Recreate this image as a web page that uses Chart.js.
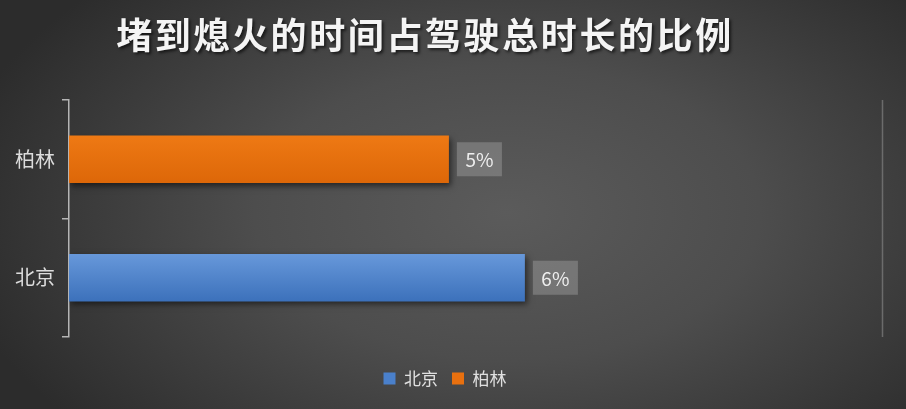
<!DOCTYPE html>
<html>
<head>
<meta charset="utf-8">
<script src="https://cdn.jsdelivr.net/npm/chart.js@4"></script>
<style>
  html, body { margin: 0; padding: 0; }
  body {
    width: 906px; height: 409px; overflow: hidden;
    background: radial-gradient(ellipse 62% 80% at 56% 52%, #5b5b5b 0%, #4d4d4d 45%, #2c2c2c 100%);
  }
  #wrap { position: relative; width: 906px; height: 409px; }
</style>
</head>
<body>
<div id="wrap"><canvas id="myChart"></canvas></div>
<script>
const title = "堵到熄火的时间占驾驶总时长的比例";
const cities = ["柏林", "北京"];
const beijing = [null, 6];
const berlin = [5, null];
const xMax = 10.7;
const barPct = 0.4;

const ctx = document.getElementById("myChart");

// vertical gradient on each bar, worked out from the category scale
function barFill(top, bottom) {
  return (c) => {
    const y = c.chart.scales && c.chart.scales.y;
    if (!y || !c.chart.chartArea || c.dataIndex === undefined) return bottom;
    const mid = y.getPixelForValue(c.dataIndex);
    const half = (y.height / cities.length) * barPct / 2;
    const g = c.chart.ctx.createLinearGradient(0, mid - half, 0, mid + half);
    g.addColorStop(0, top);
    g.addColorStop(1, bottom);
    return g;
  };
}

const extras = {
  id: "extras",
  beforeDatasetsDraw(chart) {
    const c = chart.ctx;
    c.save();
    c.shadowColor = "rgba(0,0,0,0.55)";
    c.shadowBlur = 6;
    c.shadowOffsetX = 2;
    c.shadowOffsetY = 3;
  },
  afterDatasetsDraw(chart) {
    const c = chart.ctx;
    c.restore();
    // value boxes
    c.save();
    c.font = '19px "Noto Sans CJK SC", "Noto Sans", sans-serif';
    c.textAlign = "center";
    c.textBaseline = "middle";
    chart.data.datasets.forEach((ds, i) => {
      chart.getDatasetMeta(i).data.forEach((bar, j) => {
        const v = ds.data[j];
        if (v == null) return;
        const x = bar.x + 8, w = 45, h = 34;
        c.fillStyle = "rgba(160,160,160,0.45)";
        c.fillRect(x, bar.y - h / 2, w, h);
        c.fillStyle = "#eeeeee";
        c.fillText(v + "%", x + w / 2, bar.y + 1);
      });
    });
    c.restore();
  },
  afterDraw(chart) {
    const c = chart.ctx;
    const a = chart.chartArea;
    c.save();
    // faint right edge line
    c.strokeStyle = "rgba(120,120,120,0.8)";
    c.lineWidth = 1.5;
    c.beginPath();
    c.moveTo(a.right + 0.5, a.top);
    c.lineTo(a.right + 0.5, a.bottom);
    c.stroke();
    // title
    c.font = 'bold 36px "Noto Sans CJK SC", sans-serif';
    c.letterSpacing = "2.6px";
    c.textAlign = "center";
    c.textBaseline = "middle";
    c.shadowColor = "rgba(0,0,0,0.6)";
    c.shadowBlur = 3;
    c.shadowOffsetX = 2;
    c.shadowOffsetY = 2;
    c.fillStyle = "#f4f4f4";
    c.fillText(title, 425, 35);
    c.restore();
  }
};

new Chart(ctx, {
  type: "bar",
  data: {
    labels: cities,
    datasets: [
      {
        label: "北京",
        data: beijing,
        backgroundColor: barFill("#6798da", "#3c71bb"),
        legendColor: "#4a80cb",
      },
      {
        label: "柏林",
        data: berlin,
        backgroundColor: barFill("#ee7914", "#dd6708"),
        legendColor: "#e8700f",
      },
    ],
  },
  options: {
    indexAxis: "y",
    maintainAspectRatio: false,
    animation: false,
    grouped: false,
    barPercentage: barPct,
    categoryPercentage: 1,
    layout: { padding: { top: 100, left: 8, right: 24, bottom: 12 } },
    scales: {
      x: {
        min: 0,
        max: xMax,
        ticks: { display: false },
        grid: { display: false, drawTicks: false },
        border: { display: false },
        afterFit: (s) => { s.height = 19; },
      },
      y: {
        ticks: {
          color: "#dcdcdc",
          padding: 7,
          font: { size: 20, family: '"Noto Sans CJK SC", sans-serif' },
        },
        grid: {
          offset: true,
          drawOnChartArea: false,
          drawTicks: true,
          tickLength: 7,
          color: "#b5b5b5",
          lineWidth: 1.5,
        },
        border: { color: "#b5b5b5", width: 1.5 },
      },
    },
    plugins: {
      title: { display: false },
      tooltip: { enabled: false },
      legend: {
        position: "bottom",
        labels: {
          color: "#e0e0e0",
          boxWidth: 12,
          boxHeight: 12,
          padding: 14,
          font: { size: 17, family: '"Noto Sans CJK SC", sans-serif' },
          generateLabels: (chart) =>
            chart.data.datasets.map((ds, i) => ({
              text: ds.label,
              fillStyle: ds.legendColor,
              strokeStyle: ds.legendColor,
              lineWidth: 0,
              fontColor: "#e0e0e0",
              datasetIndex: i,
            })),
        },
      },
    },
  },
  plugins: [extras],
});
</script>
</body>
</html>
